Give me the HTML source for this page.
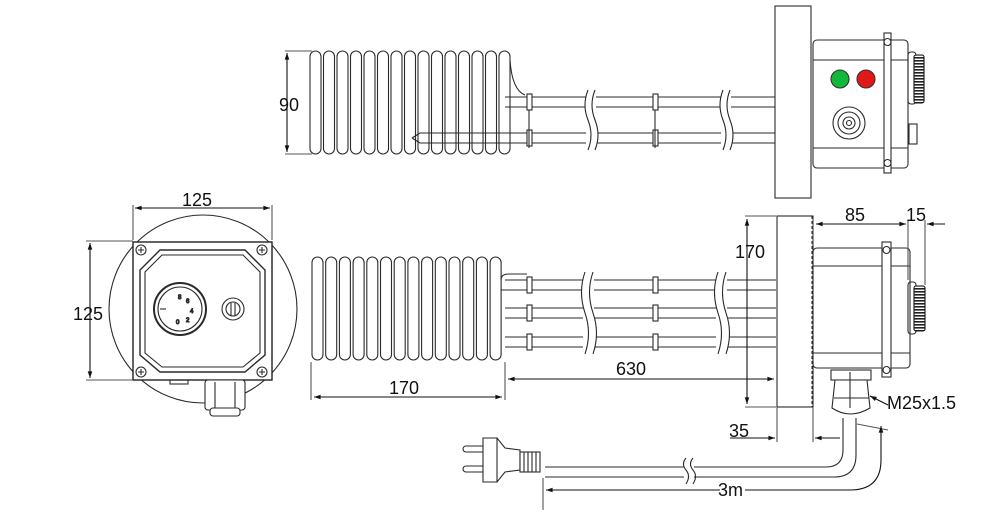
<!DOCTYPE html>
<html><head><meta charset="utf-8"><style>
html,body{margin:0;padding:0;background:#fff}
svg{display:block}
text{font-family:"Liberation Sans",sans-serif;font-size:18px;fill:#111}
</style></head><body>
<svg width="1000" height="520" viewBox="0 0 1000 520" xmlns="http://www.w3.org/2000/svg">
<defs>
<marker id="a" viewBox="0 0 10 10" refX="10" refY="5" markerWidth="9" markerHeight="6" orient="auto-start-reverse"><path d="M0,1.5 L10,5 L0,8.5z" fill="#111"/></marker>
<pattern id="rib" width="4" height="3" patternUnits="userSpaceOnUse"><rect width="4" height="3" fill="#fff"/><rect width="4" height="1.6" fill="#222"/></pattern>
</defs>
<g fill="none" stroke="#2a2a2a" stroke-width="1.1">

<!-- ===== TOP VIEW ===== -->
<g>
<line x1="505" y1="97" x2="776" y2="97"/><line x1="505" y1="107" x2="776" y2="107"/>
<line x1="420" y1="133" x2="776" y2="133"/><line x1="420" y1="143" x2="776" y2="143"/>
<path d="M412,138 L420,133 M412,138 L420,143"/>
</g>
<g fill="#fff">
<rect x="586" y="90" width="10" height="60" stroke="none"/>
<rect x="721" y="90" width="10" height="60" stroke="none"/>
<path d="M588,90 q-6,15 0,30 q6,15 0,30"/><path d="M595,90 q-6,15 0,30 q6,15 0,30"/>
<path d="M723,90 q-6,15 0,30 q6,15 0,30"/><path d="M730,90 q-6,15 0,30 q6,15 0,30"/>
</g>
<rect x="527" y="94" width="5" height="16" fill="#fff"/><rect x="527" y="130" width="5" height="16" fill="#fff"/>
<line x1="529" y1="110" x2="529" y2="148"/>
<rect x="653" y="94" width="5" height="16" fill="#fff"/><rect x="653" y="130" width="5" height="16" fill="#fff"/>
<line x1="655" y1="110" x2="655" y2="148"/>
<g>
<rect x="310" y="51" width="11" height="103" rx="5.5"/>
<rect x="323.5" y="51" width="11" height="103" rx="5.5"/>
<rect x="337" y="51" width="11" height="103" rx="5.5"/>
<rect x="350.5" y="51" width="11" height="103" rx="5.5"/>
<rect x="364" y="51" width="11" height="103" rx="5.5"/>
<rect x="377.5" y="51" width="11" height="103" rx="5.5"/>
<rect x="391" y="51" width="11" height="103" rx="5.5"/>
<rect x="404.5" y="51" width="11" height="103" rx="5.5"/>
<rect x="418" y="51" width="11" height="103" rx="5.5"/>
<rect x="431.5" y="51" width="11" height="103" rx="5.5"/>
<rect x="445" y="51" width="11" height="103" rx="5.5"/>
<rect x="458.5" y="51" width="11" height="103" rx="5.5"/>
<rect x="472" y="51" width="11" height="103" rx="5.5"/>
<rect x="485.5" y="51" width="11" height="103" rx="5.5"/>
<rect x="499" y="51" width="11" height="103" rx="5.5"/>
<path d="M510,60 q2,30 15,35"/>
</g>
<rect x="775" y="6" width="36" height="192" fill="#fff"/>
<rect x="813" y="40" width="95" height="128" rx="4" fill="#fff"/>
<line x1="813" y1="60" x2="908" y2="60"/><line x1="813" y1="148" x2="908" y2="148"/>
<rect x="884" y="33" width="7" height="140" fill="#fff"/>
<circle cx="887.5" cy="42" r="3.5"/><circle cx="887.5" cy="163" r="3.5"/>
<rect x="908" y="52" width="8" height="52" rx="3"/>
<rect x="914" y="55" width="10" height="48" rx="2" fill="url(#rib)" stroke="#111"/>
<rect x="909" y="124" width="8" height="20"/>
<circle cx="840" cy="79" r="9" fill="#12b83a" stroke="#333"/>
<circle cx="866" cy="79" r="9" fill="#e01818" stroke="#333"/>
<circle cx="849" cy="123" r="16"/><circle cx="849" cy="123" r="11"/><circle cx="849" cy="123" r="6"/><circle cx="849" cy="123" r="2.5"/>

<line x1="285" y1="51" x2="312" y2="51" stroke="#555"/><line x1="285" y1="154" x2="312" y2="154" stroke="#555"/>
<line x1="287" y1="53" x2="287" y2="152" stroke="#111" marker-start="url(#a)" marker-end="url(#a)"/>

<!-- ===== LEFT VIEW ===== -->
<circle cx="203" cy="309" r="94"/>
<rect x="133" y="242" width="139" height="138" fill="#fff" stroke="#222" stroke-width="1.4"/>
<path d="M160,250 L245,250 L265,270 L265,355 L245,372 L160,372 L140,355 L140,270 Z" stroke-width="1.4"/>
<path d="M162,255 L243,255 L260,272 L260,353 L243,367 L162,367 L145,353 L145,272 Z"/>
<g>
<circle cx="141" cy="250" r="5"/><path d="M138,250h6M141,247v6"/>
<circle cx="262" cy="250" r="5"/><path d="M259,250h6M262,247v6"/>
<circle cx="141" cy="372" r="5"/><path d="M138,372h6M141,369v6"/>
<circle cx="262" cy="372" r="5"/><path d="M259,372h6M262,369v6"/>
</g>
<circle cx="180" cy="309" r="26" stroke-width="2"/><circle cx="180" cy="309" r="22"/>
<g><text x="178" y="299" style="font-size:6px">8</text><text x="186" y="303" style="font-size:6px">6</text><text x="190" y="313" style="font-size:6px">4</text><text x="186" y="322" style="font-size:6px">2</text><text x="176" y="324" style="font-size:6px">0</text></g>
<line x1="160" y1="309" x2="166" y2="309"/>
<circle cx="233" cy="309" r="11"/><circle cx="233" cy="309" r="7"/><line x1="231" y1="303" x2="231" y2="315"/><line x1="235" y1="303" x2="235" y2="315"/>
<rect x="205" y="380" width="40" height="30" rx="3" fill="#fff"/>
<line x1="215" y1="382" x2="215" y2="408"/><line x1="235" y1="382" x2="235" y2="408"/>
<rect x="210" y="408" width="30" height="8" rx="3" fill="#fff"/>
<rect x="170" y="380" width="18" height="4"/>
<line x1="133" y1="205" x2="133" y2="240" stroke="#555"/><line x1="272" y1="205" x2="272" y2="240" stroke="#555"/>
<line x1="135" y1="208" x2="270" y2="208" stroke="#111" marker-start="url(#a)" marker-end="url(#a)"/>
<line x1="86" y1="241" x2="133" y2="241" stroke="#555"/><line x1="86" y1="380" x2="133" y2="380" stroke="#555"/>
<line x1="90" y1="243" x2="90" y2="378" stroke="#111" marker-start="url(#a)" marker-end="url(#a)"/>

<!-- ===== SIDE VIEW ===== -->
<g>
<line x1="505" y1="280" x2="776" y2="280"/><line x1="505" y1="290" x2="776" y2="290"/>
<line x1="505" y1="308" x2="776" y2="308"/><line x1="505" y1="318" x2="776" y2="318"/>
<line x1="505" y1="337" x2="776" y2="337"/><line x1="505" y1="347" x2="776" y2="347"/>
</g>
<g fill="#fff">
<rect x="583" y="272" width="11" height="82" stroke="none"/>
<rect x="716" y="272" width="11" height="82" stroke="none"/>
<path d="M585,272 q-7,20 0,41 q7,20 0,41"/><path d="M593,272 q-7,20 0,41 q7,20 0,41"/>
<path d="M718,272 q-7,20 0,41 q7,20 0,41"/><path d="M726,272 q-7,20 0,41 q7,20 0,41"/>
</g>
<g fill="#fff">
<rect x="527" y="277" width="5" height="16"/><rect x="527" y="305" width="5" height="16"/><rect x="527" y="334" width="5" height="16"/>
<rect x="653" y="277" width="5" height="16"/><rect x="653" y="305" width="5" height="16"/><rect x="653" y="334" width="5" height="16"/>
</g>
<g>
<rect x="312" y="257" width="11" height="103" rx="5.5"/>
<rect x="325.7" y="257" width="11" height="103" rx="5.5"/>
<rect x="339.4" y="257" width="11" height="103" rx="5.5"/>
<rect x="353.1" y="257" width="11" height="103" rx="5.5"/>
<rect x="366.8" y="257" width="11" height="103" rx="5.5"/>
<rect x="380.5" y="257" width="11" height="103" rx="5.5"/>
<rect x="394.2" y="257" width="11" height="103" rx="5.5"/>
<rect x="407.9" y="257" width="11" height="103" rx="5.5"/>
<rect x="421.6" y="257" width="11" height="103" rx="5.5"/>
<rect x="435.3" y="257" width="11" height="103" rx="5.5"/>
<rect x="449" y="257" width="11" height="103" rx="5.5"/>
<rect x="462.7" y="257" width="11" height="103" rx="5.5"/>
<rect x="476.4" y="257" width="11" height="103" rx="5.5"/>
<rect x="490.1" y="257" width="11" height="103" rx="5.5"/>
<path d="M501,280 q0,-6 8,-6 l18,0 M501,290 l26,0"/>
</g>
<rect x="777" y="216" width="36" height="191" fill="#fff"/>
<line x1="812" y1="216" x2="812" y2="407" stroke-dasharray="3 2"/>
<rect x="813" y="248" width="97" height="120" rx="4" fill="#fff"/>
<line x1="813" y1="266" x2="910" y2="266"/><line x1="813" y1="353" x2="910" y2="353"/>
<rect x="882" y="242" width="9" height="135" fill="#fff"/>
<circle cx="886.5" cy="250" r="3.5"/><circle cx="886.5" cy="370" r="3.5"/>
<rect x="908" y="282" width="8" height="52" rx="3"/>
<rect x="914" y="286" width="11" height="45" rx="2" fill="url(#rib)" stroke="#111"/>
<rect x="831" y="370" width="40" height="10" fill="#fff"/>
<path d="M835,380 L867,380 L870,408 Q850,420 832,408 Z" fill="#fff"/>
<line x1="850" y1="372" x2="850" y2="408"/><line x1="834" y1="398" x2="869" y2="398"/>
<path d="M843,418 L843,450 Q843,467 826,467 L545,467"/>
<path d="M856,418 L856,455 Q856,477 834,477 L545,477"/>
<rect x="684" y="460" width="10" height="22" fill="#fff" stroke="none"/>
<path d="M686,458 q-5,6 0,12 q5,6 0,14"/><path d="M693,458 q-5,6 0,12 q5,6 0,14"/>
<rect x="463" y="446" width="22" height="6" rx="3"/><rect x="463" y="466" width="22" height="6" rx="3"/>
<path d="M483,438 L497,438 L505,448 L520,450 L520,470 L505,472 L497,482 L483,482 Z" fill="#fff"/>
<line x1="497" y1="438" x2="497" y2="482"/>
<rect x="520" y="452" width="20" height="20" fill="#fff"/>
<path d="M524,452v20M528,452v20M532,452v20M536,452v20"/>

<g stroke="#111">
<line x1="745" y1="216" x2="776" y2="216" stroke="#555"/><line x1="745" y1="407" x2="776" y2="407" stroke="#555"/>
<line x1="747" y1="219" x2="747" y2="404" marker-start="url(#a)" marker-end="url(#a)"/>
<line x1="505" y1="362" x2="505" y2="400" stroke="#555"/>
<line x1="508" y1="379" x2="774" y2="379" marker-start="url(#a)" marker-end="url(#a)"/>
<line x1="311" y1="362" x2="311" y2="400" stroke="#555"/>
<line x1="314" y1="397" x2="502" y2="397" marker-start="url(#a)" marker-end="url(#a)"/>
<line x1="813" y1="218" x2="813" y2="245" stroke="#555"/>
<line x1="816" y1="224" x2="906" y2="224" marker-start="url(#a)" marker-end="url(#a)"/>
<line x1="908" y1="220" x2="908" y2="280" stroke="#555"/><line x1="925" y1="220" x2="925" y2="285" stroke="#555"/>
<line x1="945" y1="224" x2="927" y2="224" marker-end="url(#a)"/>
<line x1="777" y1="407" x2="777" y2="442" stroke="#555"/><line x1="813" y1="407" x2="813" y2="442" stroke="#555"/>
<line x1="730" y1="438" x2="775" y2="438" marker-end="url(#a)"/>
<line x1="840" y1="438" x2="815" y2="438" marker-end="url(#a)"/>
<line x1="888" y1="405" x2="870" y2="396" marker-end="url(#a)"/>
<line x1="857" y1="424" x2="888" y2="430" stroke="#555"/>
<line x1="543" y1="478" x2="543" y2="510" stroke="#555"/>
<path d="M720,490 L546,490" marker-end="url(#a)"/>
<path d="M745,490 L850,490 Q881,490 881,460 L881,426" marker-end="url(#a)"/>
</g>
</g>
<text x="279" y="111">90</text>
<text x="182" y="206">125</text>
<text x="73" y="320">125</text>
<text x="735" y="258">170</text>
<text x="845" y="221">85</text>
<text x="906" y="221">15</text>
<text x="616" y="375">630</text>
<text x="389" y="394">170</text>
<text x="729" y="437">35</text>
<text x="887" y="409">M25x1.5</text>
<text x="718" y="496">3m</text>
</svg>
</body></html>
